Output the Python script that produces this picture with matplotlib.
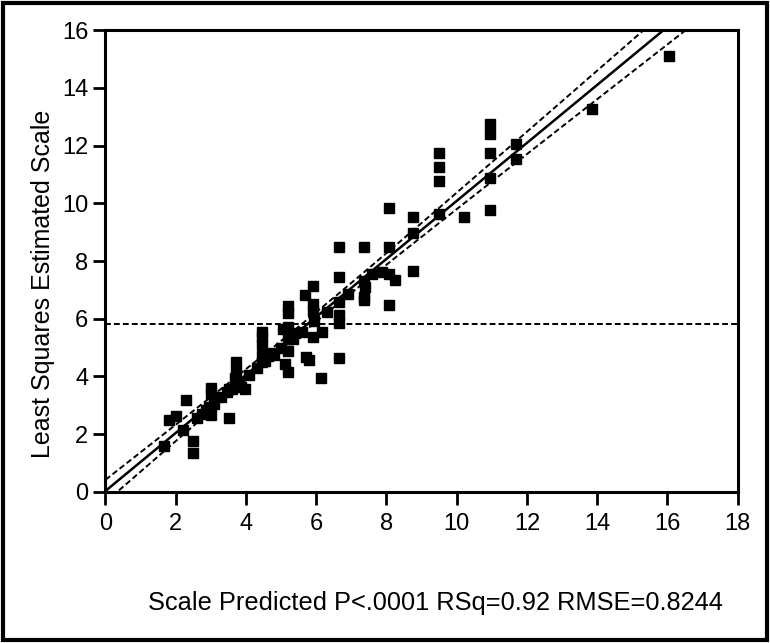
import matplotlib.pyplot as plt
import numpy as np
from matplotlib.patches import Rectangle

plt.rcParams["font.family"] = ["Liberation Sans", "DejaVu Sans"]

# Scale predicted (x) vs least squares estimated scale (y)
predicted = [
    1.68, 1.82, 2.00, 2.29, 2.48, 2.48, 2.74, 2.99, 2.99, 2.99, 2.95, 2.85,
    3.52, 3.52, 3.72, 3.72, 3.68, 3.75, 3.85, 3.97,
    4.46, 4.46, 4.46, 4.46, 4.46, 4.62, 4.70,
    5.19, 5.19, 5.19, 5.19, 5.19, 5.12, 5.19, 5.05, 5.30, 5.40,
    5.68, 5.70, 5.80, 5.92, 5.92, 5.92, 5.92, 5.95, 6.13, 6.16,
    6.64, 6.64, 6.64, 6.64, 6.64, 6.64,
    7.37, 7.37, 7.37, 7.37, 7.40, 7.86,
    8.07, 8.07, 8.07, 8.07, 8.25, 8.77, 8.77, 8.77,
    9.51, 9.51, 9.51, 9.51, 10.21,
    10.96, 10.96, 10.96, 10.96, 10.96, 11.69, 11.69, 13.86, 16.04,
    # points sitting under the fit line
    2.20, 2.60, 3.10, 3.30, 3.45, 3.60, 3.80, 4.10, 4.30, 4.55,
    4.80, 5.00, 5.35, 5.60, 6.30, 6.90, 7.60,
]
estimated = [
    1.60, 2.50, 2.64, 3.20, 1.75, 1.35, 2.70, 3.59, 3.38, 2.67, 2.95, 2.85,
    2.55, 3.55, 4.50, 4.15, 3.94, 3.70, 3.65, 3.55,
    5.53, 5.36, 5.10, 4.72, 4.50, 4.72, 4.80,
    6.43, 6.20, 5.72, 5.29, 4.87, 4.44, 4.16, 5.65, 5.40, 5.50,
    6.81, 4.68, 4.58, 7.13, 6.50, 6.28, 5.36, 5.93, 3.94, 5.53,
    8.48, 7.45, 6.57, 6.14, 5.86, 4.65,
    8.48, 7.32, 6.75, 6.64, 7.10, 7.63,
    9.83, 8.48, 7.56, 6.47, 7.35, 9.52, 8.98, 7.67,
    11.74, 11.25, 10.79, 9.62, 9.52,
    12.74, 12.41, 11.74, 10.89, 9.76, 12.06, 11.53, 13.28, 15.12,
    2.15, 2.55, 3.05, 3.30, 3.45, 3.55, 3.80, 4.05, 4.30, 4.55,
    4.75, 5.00, 5.30, 5.55, 6.25, 6.85, 7.55,
]
mean_line = 5.83
stats_text = "Scale Predicted P<.0001 RSq=0.92 RMSE=0.8244"

x = np.array(predicted)
y = np.array(estimated)
slope, intercept = np.polyfit(x, y, 1)
n = len(x)
resid = y - (slope * x + intercept)
s = np.sqrt(np.sum(resid**2) / (n - 2))
sxx = np.sum((x - x.mean()) ** 2)
xs = np.linspace(0, 18, 300)
fit = slope * xs + intercept
half = 1.99 * s * np.sqrt(1 / n + (xs - x.mean()) ** 2 / sxx)

fig = plt.figure(figsize=(7.7, 6.43), dpi=100)
ax = fig.add_axes([0.137, 0.235, 0.821, 0.718])

dash = (0, (3, 1.6))
ax.plot(x, y, "s", color="black", markersize=6.5, zorder=3)
ax.plot(xs, fit, color="black", linewidth=1.8)
ax.plot(xs, fit + half, color="black", linewidth=1.4, linestyle=dash)
ax.plot(xs, fit - half, color="black", linewidth=1.4, linestyle=dash)
ax.axhline(mean_line, color="black", linewidth=1.4, linestyle=dash)

ax.set_xlim(0, 18)
ax.set_ylim(0, 16)
ax.set_xticks(range(0, 19, 2))
ax.set_yticks(range(0, 17, 2))
ax.tick_params(direction="out", length=9, width=2, labelsize=17)
ax.tick_params(axis="x", pad=6)
for spine in ax.spines.values():
    spine.set_linewidth(2.2)
ax.set_ylabel("Least Squares Estimated Scale", fontsize=18)
ax.yaxis.set_label_coords(-0.08, 0.45)

fig.text(0.192, 0.062, stats_text, fontsize=18.3, va="center")
fig.add_artist(Rectangle((0.004, 0.005), 0.992, 0.99, transform=fig.transFigure,
                         fill=False, edgecolor="black", linewidth=3))

fig.savefig("out.png", dpi=100)
